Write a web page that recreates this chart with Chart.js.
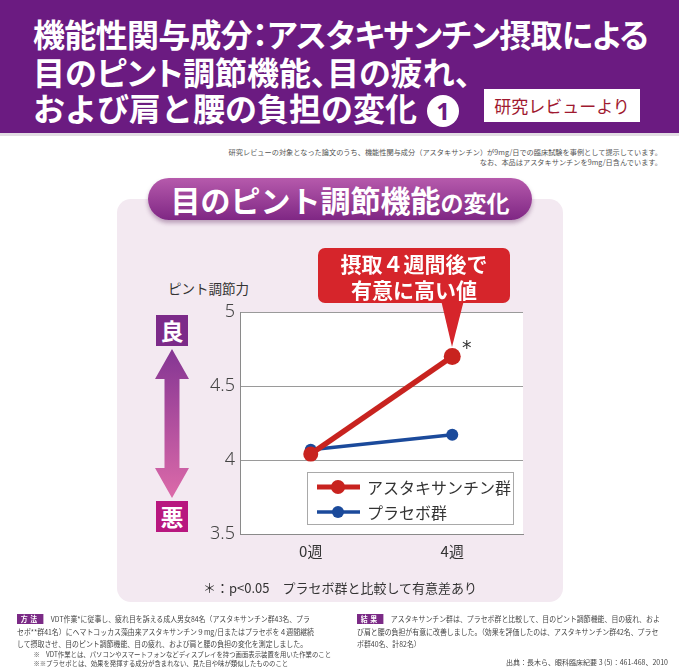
<!DOCTYPE html>
<html lang="ja">
<head>
<meta charset="utf-8">
<script src="https://cdn.jsdelivr.net/npm/chart.js@4"></script>
<style>
  html, body { margin: 0; padding: 0; }
  body { width: 679px; height: 667px; position: relative; overflow: hidden; background: #fff;
         font-family: 'Noto Sans CJK JP', 'Noto Sans', sans-serif; }
  .abs { position: absolute; }
  #header { left: 0; top: 0; width: 679px; height: 133px; background: #6b1b81; border-bottom: 3px solid #e2dde3; }
  .hl { position: absolute; left: 33px; color: #fff; font-weight: 700; font-size: 32px; line-height: 36px;
        white-space: nowrap; font-feature-settings: "palt" 1; }
  .circ { display: inline-block; width: 32px; height: 32px; border-radius: 50%; background: #fff; color: #6b1b81;
          font-size: 24px; font-weight: 700; line-height: 32px; text-align: center; vertical-align: 1px; margin-left: 10px; font-family: 'Noto Sans', sans-serif; }
  #review { left: 484px; top: 89px; width: 156px; height: 33px; background: #fff; color: #a0192f; font-size: 17px;
            line-height: 33px; text-align: center; white-space: nowrap; }
  .note { right: 17px; font-size: 7.2px; color: #555; white-space: nowrap; line-height: 10px; }
  #panel { left: 117px; top: 199px; width: 446px; height: 403px; background: #f3e9f1; border-radius: 14px; }
  #pill { left: 148px; top: 178px; width: 384px; height: 42px; border-radius: 21px;
          background: linear-gradient(#b65aac, #7f2784); box-shadow: 0 3px 4px rgba(80,20,80,0.35);
          color: #fff; font-weight: 700; text-align: center; white-space: nowrap; line-height: 42px; }
  #pill .big { font-size: 30px; }
  #pill .small { font-size: 23px; }
  #ylab { left: 168px; top: 279px; font-size: 13.5px; color: #333; white-space: nowrap; line-height: 18px; }
  .gb { width: 32px; height: 31px; color: #fff; font-weight: 700; font-size: 23px; line-height: 31px; text-align: center; }
  #callout { left: 318px; top: 248px; width: 192px; height: 55px; background: #d6252b; border-radius: 7px;
             color: #fff; font-weight: 700; font-size: 21px; line-height: 26px; text-align: center; white-space: nowrap;
             padding-top: 2px; box-sizing: border-box; }
  #star { left: 462px; top: 336px; font-size: 19px; color: #333; font-family: 'DejaVu Sans', sans-serif; }
  #foot { left: 117px; width: 446px; top: 579px; text-align: center; font-size: 13px; color: #333; white-space: nowrap; line-height: 18px; }
  .col { transform: scaleX(0.91); transform-origin: left top; }
  .bt { position: absolute; left: 0; font-size: 7.6px; color: #444; white-space: nowrap; line-height: 12px; }
  .tag { display: inline-block; background: #7b2a86; color: #fff; font-weight: 700; padding: 0 4px; margin-right: 8px; letter-spacing: 3px; line-height: 10px; }
</style>
</head>
<body>
<div id="header" class="abs">
  <div class="hl" style="top:15px; letter-spacing:-0.7px;">機能性関与成分：アスタキサンチン摂取による</div>
  <div class="hl" style="top:53px">目のピント調節機能、目の疲れ、</div>
  <div class="hl" style="top:89px; font-feature-settings: normal;">および肩と腰の負担の変化<span class="circ">1</span></div>
</div>
<div id="review" class="abs">研究レビューより</div>
<div class="abs note" style="top:147px">研究レビューの対象となった論文のうち、機能性関与成分（アスタキサンチン）が9mg/日での臨床試験を事例として提示しています。</div>
<div class="abs note" style="top:157px">なお、本品はアスタキサンチンを9mg/日含んでいます。</div>

<div id="panel" class="abs"></div>
<div id="pill" class="abs"><span class="big">目のピント調節機能</span><span class="small">の変化</span></div>

<div id="ylab" class="abs">ピント調節力</div>
<div class="abs gb" style="left:156px; top:315px; background:#7c2a89;">良</div>
<div class="abs gb" style="left:156px; top:501px; background:#b8177f;">悪</div>
<svg class="abs" style="left:150px; top:341px;" width="45" height="165">
  <defs>
    <linearGradient id="ag" x1="0" y1="0" x2="0" y2="1">
      <stop offset="0" stop-color="#843593"/>
      <stop offset="1" stop-color="#dc6aa9"/>
    </linearGradient>
  </defs>
  <polygon fill="url(#ag)" points="22,8 39,38 29.5,38 29.5,127 39,127 22,157 5,127 14.5,127 14.5,38 5,38"/>
</svg>

<canvas id="c" class="abs" style="left:180px; top:296px;" width="360" height="270"></canvas>

<svg class="abs" style="left:0; top:0;" width="679" height="667" pointer-events="none">
  <polygon fill="#d6252b" points="441,300 464,300 452,347"/>
</svg>
<div id="callout" class="abs">摂取４週間後で<br>有意に高い値</div>
<div id="star" class="abs">*</div>
<div id="foot" class="abs">＊：p&lt;0.05　プラセボ群と比較して有意差あり</div>

<div class="abs col" style="left:17px; top:613px; width:360px; height:54px;">
  <div class="bt" style="top:0"><span class="tag">方法</span>VDT作業*に従事し、疲れ目を訴える成人男女84名（アスタキサンチン群43名、プラ</div>
  <div class="bt" style="top:13px">セボ**群41名）にヘマトコッカス藻由来アスタキサンチン９mg/日またはプラセボを４週間継続</div>
  <div class="bt" style="top:25px">して摂取させ、目のピント調節機能、目の疲れ、および肩と腰の負担の変化を測定しました。</div>
  <div class="bt" style="left:18px; top:37px; font-size:7px; line-height:9px;">※　VDT作業とは、パソコンやスマートフォンなどディスプレイを持つ画面表示装置を用いた作業のこと</div>
  <div class="bt" style="left:18px; top:46px; font-size:7px; line-height:9px;">※※プラセボとは、効果を発揮する成分が含まれない、見た目や味が類似したもののこと</div>
</div>

<div class="abs col" style="left:357px; top:613px; width:360px; height:54px;">
  <div class="bt" style="top:0"><span class="tag">結果</span>アスタキサンチン群は、プラセボ群と比較して、目のピント調節機能、目の疲れ、およ</div>
  <div class="bt" style="top:13px">び肩と腰の負担が有意に改善しました。（効果を評価したのは、アスタキサンチン群42名、プラセ</div>
  <div class="bt" style="top:25px">ボ群40名、計82名）</div>
</div>
<div class="abs bt" style="left:auto; right:11px; top:656px; font-size:7px;">出典：長木ら、眼科臨床紀要 3 (5)：461-468、2010</div>

<script>
const categories = ['0週', '4週'];
const astaxanthin = [4.04, 4.70];
const placebo = [4.07, 4.17];
const seriesNames = ['アスタキサンチン群', 'プラセボ群'];
const yTicks = [3.5, 4, 4.5, 5];
const yTickLabels = ['3.5', '4', '4.5', '5'];

const RED = '#c8231f';
const BLUE = '#1b4a9b';

const plotBg = {
  id: 'plotBg',
  beforeDraw(chart) {
    const a = chart.chartArea, ctx = chart.ctx;
    ctx.save();
    ctx.fillStyle = '#ffffff';
    ctx.fillRect(a.left, a.top, a.right - a.left, a.bottom - a.top);
    ctx.restore();
  }
};

const boxLegend = {
  id: 'boxLegend',
  afterDraw(chart) {
    const a = chart.chartArea, ctx = chart.ctx;
    const x = a.left + 67, y = a.top + 160, w = 207, h = 53;
    ctx.save();
    ctx.fillStyle = '#fff';
    ctx.fillRect(x, y, w, h);
    ctx.strokeStyle = '#a9a9a9';
    ctx.lineWidth = 1;
    ctx.strokeRect(x + 0.5, y + 0.5, w - 1, h - 1);
    chart.data.datasets.forEach((ds, i) => {
      const cy = y + 15 + i * 25;
      ctx.strokeStyle = ds.borderColor;
      ctx.lineWidth = i === 0 ? 5 : 3.5;
      ctx.beginPath(); ctx.moveTo(x + 10, cy); ctx.lineTo(x + 53, cy); ctx.stroke();
      ctx.fillStyle = ds.borderColor;
      ctx.beginPath(); ctx.arc(x + 31, cy, i === 0 ? 7 : 6, 0, Math.PI * 2); ctx.fill();
      ctx.fillStyle = '#333';
      ctx.font = "16px 'Noto Sans CJK JP'";
      ctx.textBaseline = 'middle';
      ctx.fillText(ds.label, x + 60, cy + 1);
    });
    ctx.restore();
  }
};

new Chart(document.getElementById('c'), {
  type: 'line',
  data: {
    labels: categories,
    datasets: [
      { label: seriesNames[0], data: astaxanthin, borderColor: RED, backgroundColor: RED,
        borderWidth: 5.5, pointRadius: [7.5, 8.5], pointBackgroundColor: RED, pointBorderWidth: 0, tension: 0 },
      { label: seriesNames[1], data: placebo, borderColor: BLUE, backgroundColor: BLUE,
        borderWidth: 3.5, pointRadius: 6, pointBackgroundColor: BLUE, pointBorderWidth: 0, tension: 0 }
    ]
  },
  options: {
    responsive: false,
    animation: false,
    layout: { padding: { top: 16, right: 17, bottom: 0, left: 0 } },
    plugins: { legend: { display: false }, tooltip: { enabled: false } },
    scales: {
      x: {
        offset: true,
        grid: { display: false, drawTicks: false },
        border: { display: true, color: '#8a8a8a', width: 1 },
        ticks: { color: '#333', font: { size: 15, family: "'Noto Sans CJK JP'" }, padding: 8 },
        afterFit(s) { s.height = 32; }
      },
      y: {
        min: 3.5, max: 5,
        afterBuildTicks(s) { s.ticks = yTicks.map(v => ({ value: v })); },
        grid: { color: '#9a9a9a', lineWidth: 1, drawTicks: false },
        border: { display: true, color: '#8a8a8a', width: 1 },
        ticks: {
          color: '#444', font: { size: 18, family: "'Noto Sans'", weight: 300 }, padding: 5,
          callback(v) { const i = yTicks.indexOf(v); return i >= 0 ? yTickLabels[i] : ''; }
        },
        afterFit(s) { s.width = 60; }
      }
    }
  },
  plugins: [plotBg, boxLegend]
});
</script>
</body>
</html>
